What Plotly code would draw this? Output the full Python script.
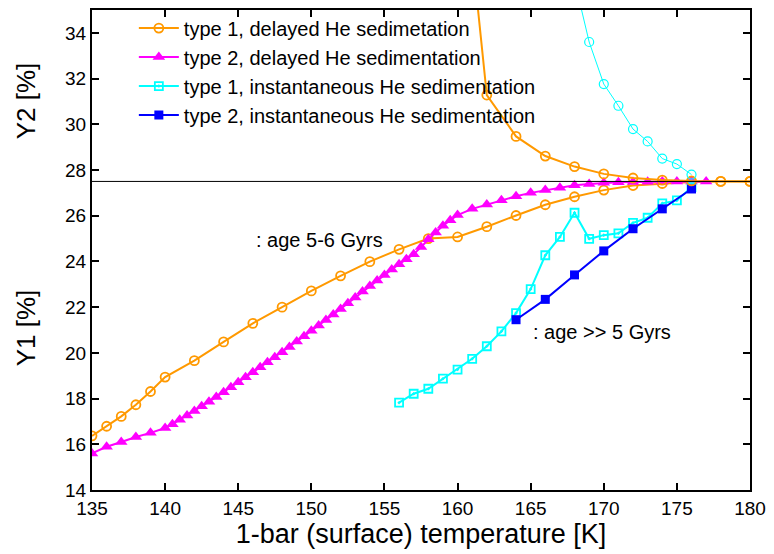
import plotly.graph_objects as go

# ---- data ----
t1_del_x = [135, 136, 137, 138, 139, 140, 142, 144, 146, 148, 150, 152, 154, 156, 158,
            160, 162, 164, 166, 168, 170, 172, 174, 176, 178, 180]
t1_del_y1 = [16.37, 16.79, 17.22, 17.73, 18.31, 18.94, 19.66, 20.48, 21.29, 22.0, 22.71,
             23.37, 23.99, 24.53, 25.0, 25.07, 25.52, 26.01, 26.48, 26.83, 27.12, 27.32,
             27.41, 27.47, 27.5, 27.5]
t1_del_up_x = [180, 178, 176, 174, 172, 170, 168, 166, 164, 162, 160]
t1_del_y2 = [27.5, 27.5, 27.52, 27.56, 27.65, 27.83, 28.15, 28.61, 29.47, 31.28, 43.7]

t2_del_x = [135, 136, 137, 138, 139, 140,
            140.5, 141, 141.5, 142, 142.5, 143, 143.5, 144, 144.5, 145, 145.5, 146,
            146.5, 147, 147.5, 148, 148.5, 149, 149.5, 150, 150.5, 151, 151.5, 152,
            152.5, 153, 153.5, 154, 154.5, 155, 155.5, 156, 156.5, 157, 157.5, 158,
            158.5, 159, 159.5, 160,
            161, 162, 163, 164, 165, 166, 167, 168, 169, 170, 171, 172, 173, 174,
            175, 176, 177]
t2_del_y1 = [15.6, 15.89, 16.1, 16.32, 16.5, 16.71,
             16.88, 17.07, 17.26, 17.46, 17.66, 17.86, 18.07, 18.28, 18.49, 18.71, 18.93,
             19.15, 19.37, 19.59, 19.81, 20.03, 20.26, 20.5, 20.73, 20.97, 21.2, 21.44,
             21.68, 21.92, 22.17, 22.42, 22.68, 22.93, 23.17, 23.41, 23.65, 23.88, 24.1,
             24.31, 24.63, 24.97, 25.27, 25.56, 25.8, 26.03,
             26.3, 26.49, 26.68, 26.85, 27.0, 27.12, 27.22, 27.33, 27.39, 27.44, 27.46,
             27.48, 27.49, 27.5, 27.5, 27.5, 27.5]

t1_ins_x = [156, 157, 158, 159, 160, 161, 162, 163, 164, 165, 166, 167, 168, 169, 170,
            171, 172, 173, 174, 175, 176]
t1_ins_y1 = [17.82, 18.21, 18.43, 18.87, 19.27, 19.74, 20.29, 20.94, 21.74, 22.79, 24.27,
             25.07, 26.13, 24.99, 25.15, 25.23, 25.69, 25.91, 26.54, 26.67, 27.25]
t1_ins_up_x = [176, 175, 174, 173, 172, 171, 170, 169, 168]
t1_ins_y2 = [27.8, 28.26, 28.5, 29.25, 29.79, 30.81, 31.76, 33.6, 36.3]

t2_ins_x = [164, 166, 168, 170, 172, 174, 176]
t2_ins_y1 = [21.45, 22.34, 23.41, 24.46, 25.43, 26.3, 27.17]

x_ticks = [135, 140, 145, 150, 155, 160, 165, 170, 175, 180]
y_ticks = [14, 16, 18, 20, 22, 24, 26, 28, 30, 32, 34]

ORANGE = "#FF9900"
MAGENTA = "#FF00FF"
CYAN = "#00FFFF"
BLUE = "#0000FF"
FONT = "Liberation Sans, Arial, sans-serif"

fig = go.Figure()

fig.add_trace(go.Scatter(
    x=t1_del_x, y=t1_del_y1, mode="lines+markers",
    name="type 1, delayed He sedimetation",
    line=dict(color=ORANGE, width=2),
    marker=dict(symbol="circle-open", size=9, color=ORANGE, line=dict(width=1.8, color=ORANGE)),
))
fig.add_trace(go.Scatter(
    x=t2_del_x, y=t2_del_y1, mode="lines+markers",
    name="type 2, delayed He sedimentation",
    line=dict(color=MAGENTA, width=2),
    marker=dict(symbol="triangle-up", size=11, color=MAGENTA),
))
fig.add_trace(go.Scatter(
    x=t1_ins_x, y=t1_ins_y1, mode="lines+markers",
    name="type 1, instantaneous He sedimentation",
    line=dict(color=CYAN, width=2),
    marker=dict(symbol="square-open-dot", size=8, color=CYAN, line=dict(width=1.8, color=CYAN)),
))
fig.add_trace(go.Scatter(
    x=t2_ins_x, y=t2_ins_y1, mode="lines+markers",
    name="type 2, instantaneous He sedimentation",
    line=dict(color=BLUE, width=2),
    marker=dict(symbol="square", size=9, color=BLUE),
))
fig.add_trace(go.Scatter(
    x=t1_del_up_x, y=t1_del_y2, mode="lines+markers", showlegend=False,
    line=dict(color=ORANGE, width=2),
    marker=dict(symbol="circle-open", size=9, color=ORANGE, line=dict(width=1.8, color=ORANGE)),
))
fig.add_trace(go.Scatter(
    x=t1_ins_up_x, y=t1_ins_y2, mode="lines+markers", showlegend=False,
    line=dict(color=CYAN, width=1),
    marker=dict(symbol="circle-open", size=9, color=CYAN, line=dict(width=1.2, color=CYAN)),
))

fig.add_shape(type="line", xref="paper", x0=0, x1=1, yref="y", y0=27.5, y1=27.5,
              line=dict(color="black", width=1))

fig.add_annotation(x=146.1, y=24.94, xref="x", yref="y", text=": age 5-6 Gyrs",
                   showarrow=False, xanchor="left", yanchor="middle",
                   font=dict(size=20, color="black", family=FONT))
fig.add_annotation(x=165.0, y=20.9, xref="x", yref="y", text=": age >> 5 Gyrs",
                   showarrow=False, xanchor="left", yanchor="middle",
                   font=dict(size=20, color="black", family=FONT))
fig.add_annotation(x=-0.101, y=0.338, xref="paper", yref="paper", text="Y1 [%]",
                   textangle=-90, showarrow=False, xanchor="center", yanchor="middle",
                   font=dict(size=26, color="black", family=FONT))
fig.add_annotation(x=-0.101, y=0.811, xref="paper", yref="paper", text="Y2 [%]",
                   textangle=-90, showarrow=False, xanchor="center", yanchor="middle",
                   font=dict(size=26, color="black", family=FONT))

axis_common = dict(showline=True, linecolor="black", linewidth=2, mirror="ticks",
                   ticks="inside", ticklen=7, tickwidth=1.5, tickcolor="black",
                   showgrid=False, zeroline=False,
                   tickfont=dict(size=19, color="black", family=FONT))

fig.update_xaxes(range=[135, 180], tickvals=x_ticks,
                 title=dict(text="1-bar (surface) temperature [K]", standoff=6,
                            font=dict(size=27, color="black", family=FONT)),
                 **axis_common)
fig.update_yaxes(range=[14, 35], tickvals=y_ticks, **axis_common)

fig.update_layout(
    width=774, height=554,
    margin=dict(l=92, r=21, t=8, b=64),
    paper_bgcolor="white", plot_bgcolor="white",
    font=dict(family=FONT, color="black"),
    legend=dict(x=0.0636, y=1.003, xanchor="left", yanchor="top",
                bgcolor="rgba(0,0,0,0)", borderwidth=0,
                font=dict(size=20, color="black", family=FONT),
                itemwidth=40, tracegroupgap=0),
)

fig.write_html("out.html")
